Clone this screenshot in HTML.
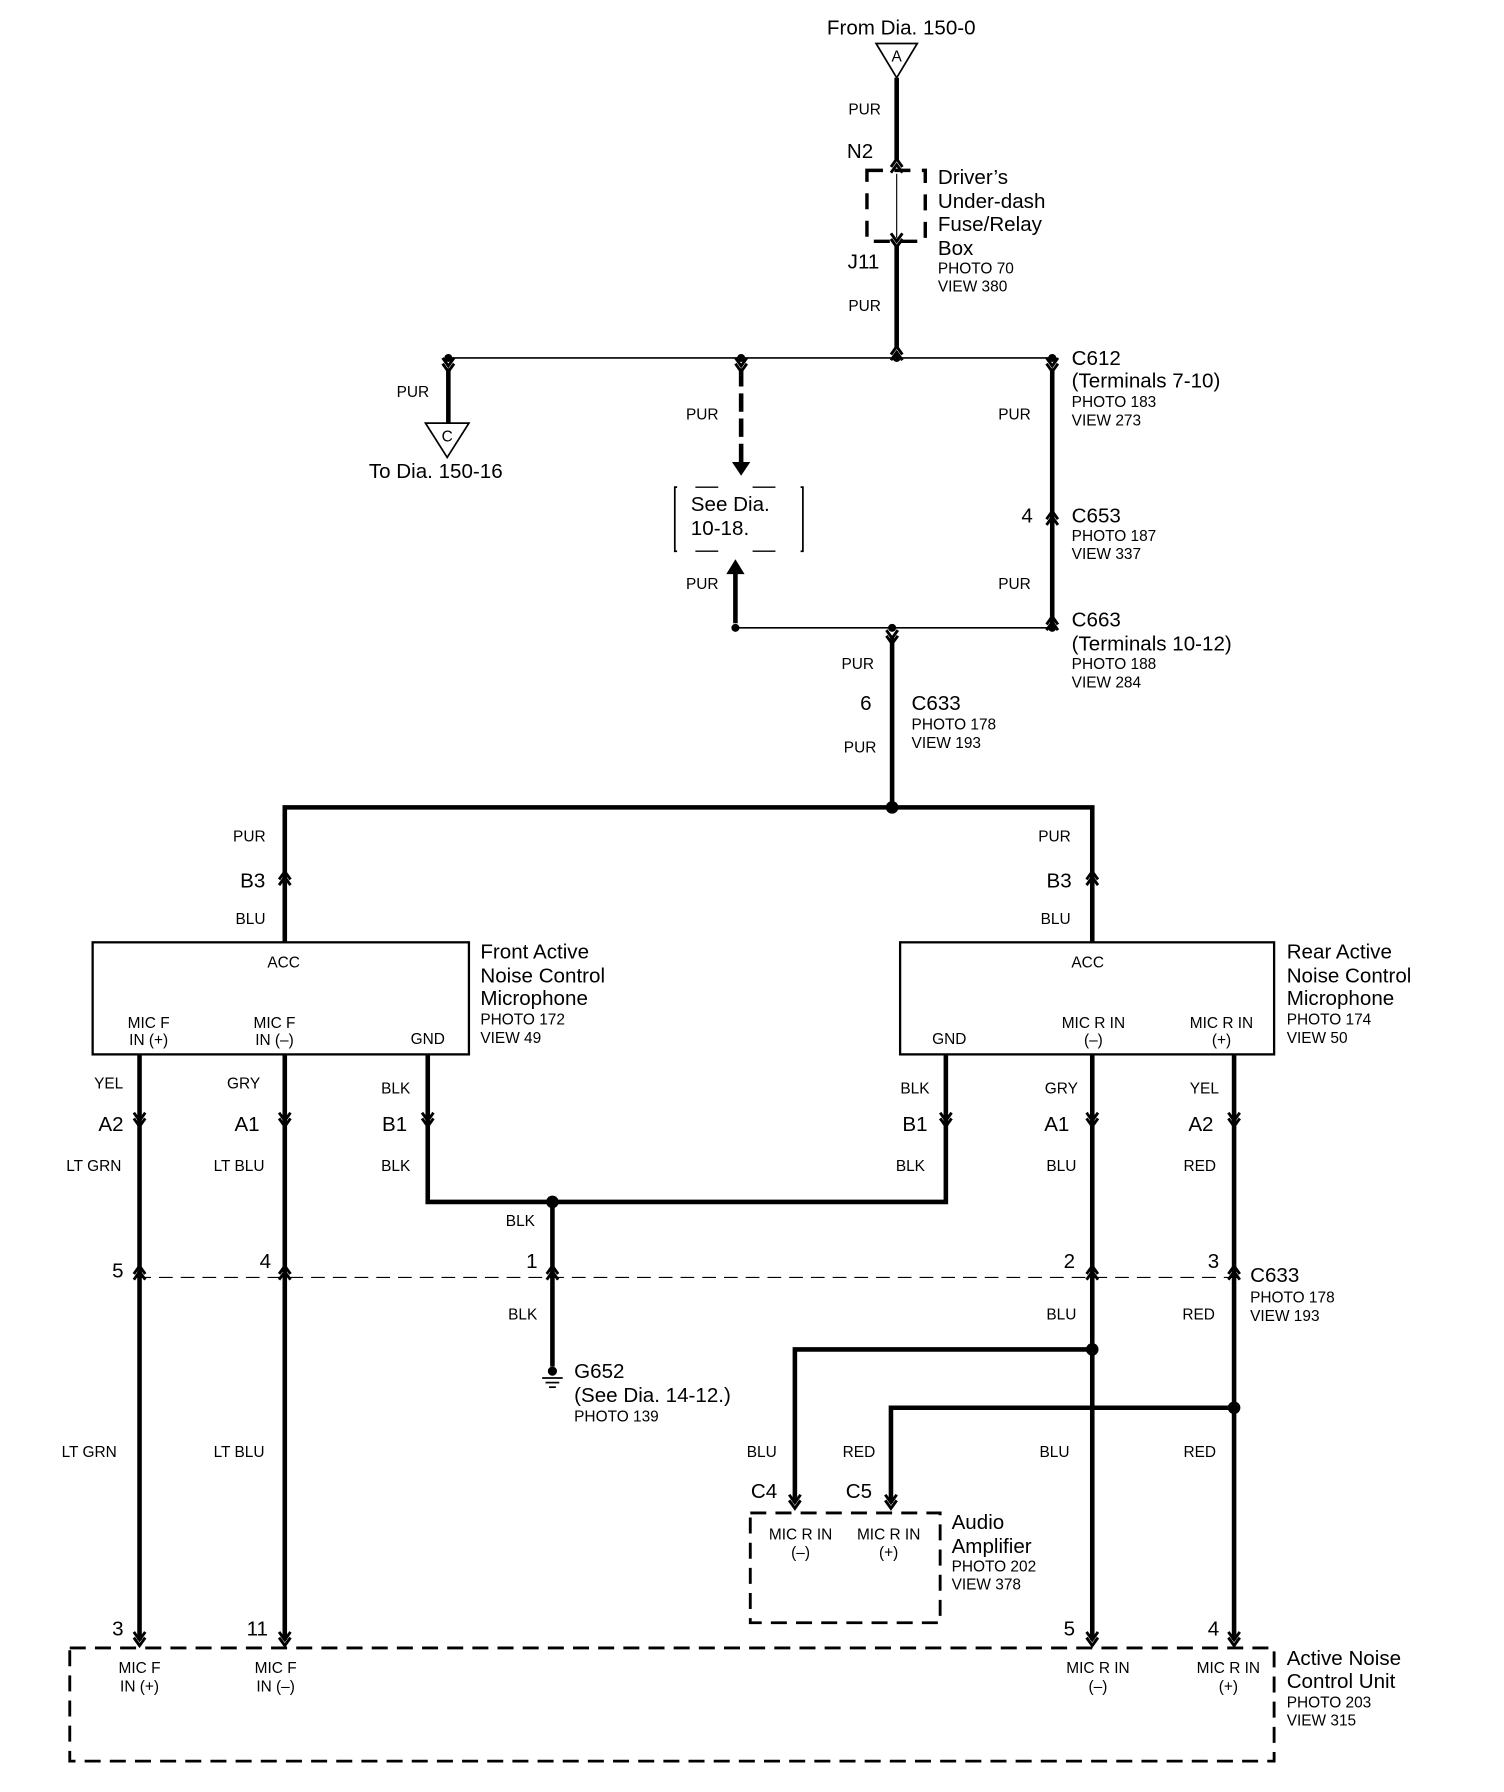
<!DOCTYPE html>
<html><head><meta charset="utf-8"><style>
html,body{margin:0;padding:0;background:#fff}
svg{display:block}
text{font-family:"Liberation Sans",Arial,sans-serif;fill:#000}
.b{font-size:18px}
.s{font-size:13.5px}
.m{text-anchor:middle}
</style></head><body>
<svg width="1504" height="1792" viewBox="0 0 1315 1567" preserveAspectRatio="none" xmlns="http://www.w3.org/2000/svg">
<defs>
<g id="up"><path d="M-5,4 L0,-3 L5,4" fill="none" stroke="#000" stroke-width="2.5"/><path d="M-5,9 L0,2 L5,9" fill="none" stroke="#000" stroke-width="2.5"/></g>
<g id="dn"><path d="M-5,-4 L0,3 L5,-4" fill="none" stroke="#000" stroke-width="2.5"/><path d="M-5,-9 L0,-2 L5,-9" fill="none" stroke="#000" stroke-width="2.5"/></g>
</defs>
<g stroke="#000" fill="none">
<polygon points="766,38 802,38 784,68" stroke-width="1.5" fill="#fff"/>
<line x1="784" y1="68" x2="784" y2="140" stroke-width="4"/>
<rect x="758" y="149" width="51" height="62" stroke-width="3" stroke-dasharray="14,10"/>
<line x1="784" y1="152" x2="784" y2="208" stroke-width="1"/>
<line x1="784" y1="214" x2="784" y2="305" stroke-width="4"/>
<line x1="392" y1="313" x2="920" y2="313" stroke-width="1.5"/>
<line x1="392" y1="322" x2="392" y2="370" stroke-width="4"/>
<polygon points="372,370 410,370 391,400" stroke-width="1.5" fill="#fff"/>
<line x1="648" y1="322" x2="648" y2="404" stroke-width="4" stroke-dasharray="16,6"/>
<line x1="920" y1="322" x2="920" y2="545" stroke-width="4"/>
<path d="M592,426 L590,426 L590,482 L592,482 M700,426 L702,426 L702,482 L700,482" stroke-width="1.5"/>
<line x1="608" y1="426" x2="684" y2="426" stroke-width="1.2" stroke-dasharray="20,30"/>
<line x1="608" y1="482" x2="684" y2="482" stroke-width="1.2" stroke-dasharray="20,30"/>
<line x1="643" y1="500" x2="643" y2="545" stroke-width="4"/>
<line x1="643" y1="549" x2="920" y2="549" stroke-width="1.5"/>
<line x1="780" y1="558" x2="780" y2="706" stroke-width="4"/>
<polyline points="249,824 249,706 955,706 955,824" stroke-width="4"/>
<rect x="81" y="824" width="329" height="98" stroke-width="2"/>
<rect x="787" y="824" width="327" height="98" stroke-width="2"/>
<line x1="122" y1="922" x2="122" y2="1434" stroke-width="4"/>
<line x1="249" y1="922" x2="249" y2="1434" stroke-width="4"/>
<polyline points="374,922 374,1051 827,1051 827,922" stroke-width="4"/>
<line x1="483" y1="1051" x2="483" y2="1195" stroke-width="4"/>
<line x1="955" y1="922" x2="955" y2="1434" stroke-width="4"/>
<line x1="1079" y1="922" x2="1079" y2="1434" stroke-width="4"/>
<line x1="120" y1="1117" x2="1085" y2="1117" stroke-width="1" stroke-dasharray="12,7"/>
<polyline points="955,1180 695,1180 695,1314" stroke-width="4"/>
<polyline points="1079,1231 779,1231 779,1314" stroke-width="4"/>
<rect x="656" y="1323" width="166" height="96" stroke-width="2.5" stroke-dasharray="14,8"/>
<rect x="61" y="1441" width="1053" height="99" stroke-width="2.5" stroke-dasharray="14,8"/>
<line x1="474" y1="1205" x2="492" y2="1205" stroke-width="1.5"/>
<line x1="477" y1="1209" x2="489" y2="1209" stroke-width="1.5"/>
<line x1="480" y1="1213" x2="486" y2="1213" stroke-width="1.5"/>
</g>
<g fill="#000">
<polygon points="640,404 656,404 648,416"/>
<polygon points="635,502 651,502 643,489"/>
<circle cx="392" cy="313" r="3.5"/><circle cx="648" cy="313" r="3.5"/><circle cx="784" cy="313" r="3.5"/><circle cx="920" cy="313" r="3.5"/>
<circle cx="643" cy="549" r="3.5"/><circle cx="780" cy="549" r="3.5"/><circle cx="920" cy="549" r="3.5"/>
<circle cx="780" cy="706" r="5.5"/><circle cx="483" cy="1051" r="5.5"/><circle cx="955" cy="1180" r="5.5"/><circle cx="1079" cy="1231" r="5.5"/>
<circle cx="483" cy="1199" r="4"/>
</g>
<use href="#up" x="784" y="142"/><use href="#dn" x="784" y="213"/><use href="#up" x="784" y="306"/>
<use href="#dn" x="392" y="322"/><use href="#dn" x="648" y="322"/><use href="#dn" x="920" y="322"/>
<use href="#up" x="920" y="450"/><use href="#up" x="920" y="542"/><use href="#dn" x="780" y="560"/>
<use href="#up" x="249" y="765"/><use href="#up" x="955" y="765"/>
<use href="#dn" x="122" y="982"/><use href="#dn" x="249" y="982"/><use href="#dn" x="374" y="982"/>
<use href="#dn" x="827" y="982"/><use href="#dn" x="955" y="982"/><use href="#dn" x="1079" y="982"/>
<use href="#up" x="122" y="1110"/><use href="#up" x="249" y="1110"/><use href="#up" x="483" y="1110"/><use href="#up" x="955" y="1110"/><use href="#up" x="1079" y="1110"/>
<use href="#dn" x="695" y="1316"/><use href="#dn" x="779" y="1316"/>
<use href="#dn" x="122" y="1436"/><use href="#dn" x="249" y="1436"/><use href="#dn" x="955" y="1436"/><use href="#dn" x="1079" y="1436"/>
<text class="b m" x="788" y="30">From Dia. 150-0</text>
<text class="s m" x="784" y="54" font-size="11">A</text>
<text class="s m" x="756" y="100">PUR</text>
<text class="b m" x="752" y="138">N2</text>
<text class="b" x="820" y="161">Driver’s</text>
<text class="b" x="820" y="182">Under-dash</text>
<text class="b" x="820" y="202">Fuse/Relay</text>
<text class="b" x="820" y="223">Box</text>
<text class="s" x="820" y="239">PHOTO 70</text>
<text class="s" x="820" y="255">VIEW 380</text>
<text class="b m" x="755" y="235">J11</text>
<text class="s m" x="756" y="272">PUR</text>
<text class="s m" x="361" y="347">PUR</text>
<text class="s m" x="391" y="386" font-size="11">C</text>
<text class="b m" x="381" y="418">To Dia. 150-16</text>
<text class="s m" x="614" y="367">PUR</text>
<text class="b" x="604" y="447">See Dia.</text>
<text class="b" x="604" y="468">10-18.</text>
<text class="s m" x="614" y="515">PUR</text>
<text class="s m" x="887" y="367">PUR</text>
<text class="s m" x="887" y="515">PUR</text>
<text class="b" x="937" y="319">C612</text>
<text class="b" x="937" y="339">(Terminals 7-10)</text>
<text class="s" x="937" y="356">PHOTO 183</text>
<text class="s" x="937" y="372">VIEW 273</text>
<text class="b m" x="898" y="457">4</text>
<text class="b" x="937" y="457">C653</text>
<text class="s" x="937" y="473">PHOTO 187</text>
<text class="s" x="937" y="489">VIEW 337</text>
<text class="b" x="937" y="548">C663</text>
<text class="b" x="937" y="569">(Terminals 10-12)</text>
<text class="s" x="937" y="585">PHOTO 188</text>
<text class="s" x="937" y="601">VIEW 284</text>
<text class="s m" x="750" y="585">PUR</text>
<text class="b m" x="757" y="621">6</text>
<text class="b" x="797" y="621">C633</text>
<text class="s" x="797" y="638">PHOTO 178</text>
<text class="s" x="797" y="654">VIEW 193</text>
<text class="s m" x="752" y="658">PUR</text>
<text class="s m" x="218" y="736">PUR</text>
<text class="b m" x="221" y="776">B3</text>
<text class="s m" x="219" y="808">BLU</text>
<text class="s m" x="922" y="736">PUR</text>
<text class="b m" x="926" y="776">B3</text>
<text class="s m" x="923" y="808">BLU</text>
<text class="s m" x="248" y="846">ACC</text>
<text class="s m" x="130" y="899">MIC F</text><text class="s m" x="130" y="914">IN (+)</text>
<text class="s m" x="240" y="899">MIC F</text><text class="s m" x="240" y="914">IN (–)</text>
<text class="s m" x="374" y="913">GND</text>
<text class="b" x="420" y="838">Front Active</text>
<text class="b" x="420" y="859">Noise Control</text>
<text class="b" x="420" y="879">Microphone</text>
<text class="s" x="420" y="896">PHOTO 172</text>
<text class="s" x="420" y="912">VIEW 49</text>
<text class="s m" x="951" y="846">ACC</text>
<text class="s m" x="830" y="913">GND</text>
<text class="s m" x="956" y="899">MIC R IN</text><text class="s m" x="956" y="914">(–)</text>
<text class="s m" x="1068" y="899">MIC R IN</text><text class="s m" x="1068" y="914">(+)</text>
<text class="b" x="1125" y="838">Rear Active</text>
<text class="b" x="1125" y="859">Noise Control</text>
<text class="b" x="1125" y="879">Microphone</text>
<text class="s" x="1125" y="896">PHOTO 174</text>
<text class="s" x="1125" y="912">VIEW 50</text>
<text class="s m" x="95" y="952">YEL</text><text class="s m" x="213" y="952">GRY</text><text class="s m" x="346" y="956">BLK</text>
<text class="b m" x="97" y="989">A2</text><text class="b m" x="216" y="989">A1</text><text class="b m" x="345" y="989">B1</text>
<text class="s m" x="82" y="1024">LT GRN</text><text class="s m" x="209" y="1024">LT BLU</text><text class="s m" x="346" y="1024">BLK</text>
<text class="s m" x="800" y="956">BLK</text><text class="s m" x="928" y="956">GRY</text><text class="s m" x="1053" y="956">YEL</text>
<text class="b m" x="800" y="989">B1</text><text class="b m" x="924" y="989">A1</text><text class="b m" x="1050" y="989">A2</text>
<text class="s m" x="796" y="1024">BLK</text><text class="s m" x="928" y="1024">BLU</text><text class="s m" x="1049" y="1024">RED</text>
<text class="s m" x="455" y="1072">BLK</text>
<text class="b m" x="103" y="1117">5</text><text class="b m" x="232" y="1109">4</text><text class="b m" x="465" y="1109">1</text>
<text class="b m" x="935" y="1109">2</text><text class="b m" x="1061" y="1109">3</text>
<text class="b" x="1093" y="1121">C633</text>
<text class="s" x="1093" y="1139">PHOTO 178</text>
<text class="s" x="1093" y="1155">VIEW 193</text>
<text class="s m" x="457" y="1154">BLK</text>
<text class="s m" x="928" y="1154">BLU</text><text class="s m" x="1048" y="1154">RED</text>
<text class="b" x="502" y="1205">G652</text>
<text class="b" x="502" y="1226">(See Dia. 14-12.)</text>
<text class="s" x="502" y="1243">PHOTO 139</text>
<text class="s m" x="78" y="1274">LT GRN</text><text class="s m" x="209" y="1274">LT BLU</text>
<text class="s m" x="666" y="1274">BLU</text><text class="s m" x="751" y="1274">RED</text>
<text class="s m" x="922" y="1274">BLU</text><text class="s m" x="1049" y="1274">RED</text>
<text class="b m" x="668" y="1310">C4</text><text class="b m" x="751" y="1310">C5</text>
<text class="s m" x="700" y="1346">MIC R  IN</text><text class="s m" x="700" y="1362">(–)</text>
<text class="s m" x="777" y="1346">MIC R  IN</text><text class="s m" x="777" y="1362">(+)</text>
<text class="b" x="832" y="1337">Audio</text>
<text class="b" x="832" y="1358">Amplifier</text>
<text class="s" x="832" y="1374">PHOTO 202</text>
<text class="s" x="832" y="1390">VIEW 378</text>
<text class="b m" x="103" y="1430">3</text><text class="b m" x="225" y="1430">11</text>
<text class="b m" x="935" y="1430">5</text><text class="b m" x="1061" y="1430">4</text>
<text class="s m" x="122" y="1463">MIC F</text><text class="s m" x="122" y="1479">IN (+)</text>
<text class="s m" x="241" y="1463">MIC F</text><text class="s m" x="241" y="1479">IN (–)</text>
<text class="s m" x="960" y="1463">MIC R  IN</text><text class="s m" x="960" y="1479">(–)</text>
<text class="s m" x="1074" y="1463">MIC R  IN</text><text class="s m" x="1074" y="1479">(+)</text>
<text class="b" x="1125" y="1456">Active Noise</text>
<text class="b" x="1125" y="1476">Control Unit</text>
<text class="s" x="1125" y="1493">PHOTO 203</text>
<text class="s" x="1125" y="1509">VIEW 315</text>
</svg>
</body></html>
